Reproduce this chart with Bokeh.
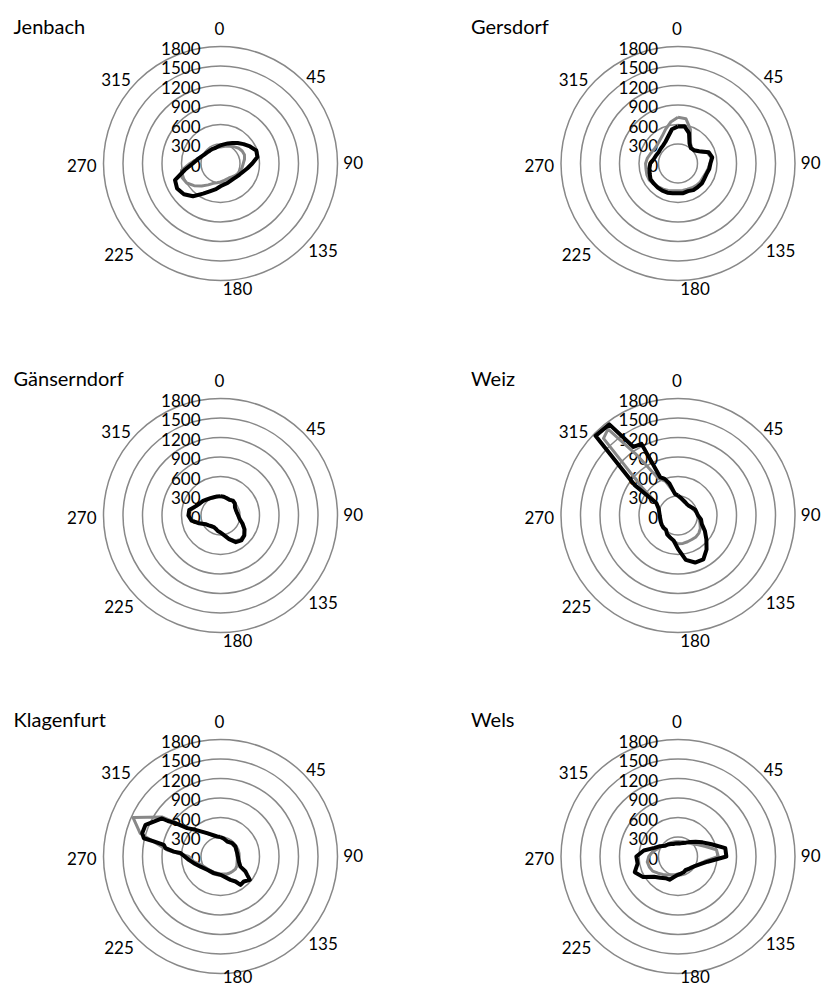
import numpy as np
from bokeh.plotting import figure
from bokeh.layouts import column, row
from bokeh.models import ColumnDataSource, Label, Range1d
from bokeh.core.properties import value
from bokeh.embed import file_html
from bokeh.resources import INLINE

# ---------------- data ----------------
STATIONS = ["Jenbach", "Gersdorf", "Gänserndorf", "Weiz", "Klagenfurt", "Wels"]
RINGS = [300, 600, 900, 1200, 1500, 1800]
RADIAL_TICKS = [0, 300, 600, 900, 1200, 1500, 1800]
ANGLE_TICKS = [0, 45, 90, 135, 180, 225, 270, 315]

DEG10 = list(range(0, 360, 10))

JEN_BLACK = [278, 298, 329, 365, 411, 463, 524, 586, 576, 488, 421, 370, 339, 319, 308, 308, 319, 329,
             350, 401, 452, 535, 658, 735, 771, 745, 555, 427, 360, 313, 283, 267, 257, 257, 252, 262]
JEN_GRAY = [255, 265, 285, 305, 335, 365, 385, 392, 375, 350, 338, 328, 310, 290, 270, 258, 260, 270,
            283, 300, 325, 380, 450, 530, 600, 630, 610, 470, 370, 318, 290, 273, 265, 262, 258, 255]

GER_BLACK = [571, 581, 496, 355, 308, 319, 375, 504, 535, 499, 488, 468, 468, 478, 473, 473, 452, 463,
             458, 463, 478, 483, 483, 483, 488, 463, 447, 427, 380, 360, 344, 350, 360, 386, 442, 535]
GER_GRAY = [710, 700, 560, 380, 320, 320, 370, 480, 520, 490, 470, 450, 440, 445, 440, 430, 420, 420,
            420, 425, 440, 455, 470, 490, 510, 510, 500, 499, 478, 449, 428, 427, 448, 487, 560, 647]

GAE_BLACK = [298, 293, 283, 278, 298, 288, 257, 252, 257, 273, 298, 360, 427, 478, 499, 473, 386, 308,
             262, 242, 216, 206, 216, 237, 267, 350, 452, 494, 488, 411, 370, 350, 324, 308, 298, 298]
GAE_GRAY = [292, 288, 280, 275, 290, 282, 255, 250, 255, 270, 292, 350, 420, 470, 480, 450, 375, 300,
            258, 238, 214, 204, 214, 234, 262, 345, 440, 480, 470, 400, 362, 345, 320, 305, 295, 292]

WEI_BLACK_DEG = [0, 10, 20, 30, 40, 50, 60, 70, 80, 90, 100, 110, 120, 130, 140, 150, 160, 170, 180,
                 190, 200, 210, 220, 230, 240, 250, 260, 270, 280, 290, 300, 305, 314, 323, 327, 333,
                 335, 340, 345, 352]
WEI_BLACK = [308, 272, 246, 231, 221, 226, 246, 277, 290, 308, 360, 390, 478, 570, 683, 780, 770, 693,
             513, 390, 360, 334, 288, 293, 288, 282, 277, 282, 293, 318, 386, 807, 1764, 1756, 1257,
             1237, 652, 600, 510, 336]
WEI_GRAY_DEG = [0, 20, 40, 60, 80, 90, 100, 110, 120, 130, 140, 150, 160, 170, 180, 190, 200, 210, 220,
                240, 260, 280, 290, 300, 308, 316, 321, 326, 332, 340, 350]
WEI_GRAY = [290, 240, 220, 240, 280, 300, 330, 360, 396, 420, 430, 426, 430, 436, 436, 400, 350, 320,
            290, 285, 275, 290, 310, 380, 700, 1650, 1710, 1100, 650, 560, 360]

KLA_BLACK_DEG = [0, 10, 24, 41, 56, 79, 90, 105, 117, 121, 124.5, 128.5, 137, 144.8, 149, 157, 180,
                 201.8, 225, 243, 256, 264, 275, 276, 278.6, 281.6, 282.7, 283.4, 286.6, 292.9, 303,
                 304, 306.5, 310.4, 316.8, 330, 350.5]
KLA_BLACK = [300, 280, 253, 273, 277, 262, 267, 292, 344, 449, 498, 577, 526, 534, 449, 391, 282,
             276, 290, 344, 423, 490, 618, 722, 856, 890, 1052, 1213, 1257, 1252, 1074,
             976, 862, 673, 563, 414, 312]
KLA_GRAY_DEG = [0, 20, 40, 60, 80, 100, 120, 130, 140, 150, 160, 180, 200, 220, 240, 250, 259, 270,
                277, 286, 294, 304, 308, 312, 318, 330, 345]
KLA_GRAY = [290, 265, 265, 265, 258, 262, 290, 300, 295, 290, 285, 270, 262, 270, 300, 340, 418, 487,
            827, 1283, 1472, 1088, 800, 640, 540, 410, 320]

WEL_BLACK = [203, 205, 221, 246, 293, 354, 436, 549, 739, 744, 462, 354, 298, 267, 252, 237, 257, 267,
             282, 318, 380, 386, 427, 483, 627, 708, 631, 641, 534, 386, 318, 257, 241, 221, 205, 205]
WEL_GRAY = [230, 232, 240, 255, 270, 300, 360, 450, 600, 620, 420, 340, 290, 270, 260, 258, 260, 265,
            270, 285, 300, 330, 360, 400, 450, 470, 480, 450, 400, 340, 300, 270, 250, 240, 232, 230]

SERIES = [
    (DEG10, JEN_BLACK, DEG10, JEN_GRAY),
    (DEG10, GER_BLACK, DEG10, GER_GRAY),
    (DEG10, GAE_BLACK, DEG10, GAE_GRAY),
    (WEI_BLACK_DEG, WEI_BLACK, WEI_GRAY_DEG, WEI_GRAY),
    (KLA_BLACK_DEG, KLA_BLACK, KLA_GRAY_DEG, KLA_GRAY),
    (DEG10, WEL_BLACK, DEG10, WEL_GRAY),
]

# ---------------- style ----------------
FONT = "Lato"
RING_COLOR = "#888888"
GRAY_COLOR = "#888888"
R_PX = 117.0                 # pixel radius of the 1800 ring
U = 1800.0 / R_PX            # data units per pixel
LAB_R = 1980                 # base radius of angle labels
NUDGE_X = [-1, 4.5, 4, 11.5, 17, -10.5, -10, -13.5]
NUDGE_Y = [-6, 4.5, -1, -4.5, -4, -0.5, 2, 7.5]

COL_W = [458, 364]
COL_CX = [220, 219.5]
ROW_H = [352, 341, 294]
ROW_CY = 163
ROW_BOTTOM_LIFT = [0, 0, 5]   # keep the lowest "180" label inside the page


def polar_xy(deg, r):
    t = np.deg2rad(np.asarray(deg, dtype=float))
    r = np.asarray(r, dtype=float)
    x = r * np.sin(t)
    y = r * np.cos(t)
    return np.append(x, x[0]), np.append(y, y[0])


def panel(name, series, w, h, cx, cy, lift):
    bdeg, br, gdeg, gr = series
    p = figure(width=w, height=h,
               x_range=Range1d(-cx * U, (w - cx) * U),
               y_range=Range1d(-(h - cy) * U, cy * U),
               x_axis_type=None, y_axis_type=None,
               output_backend="svg", toolbar_location=None,
               min_border=0, outline_line_color=None)
    p.background_fill_color = "white"
    p.border_fill_color = "white"

    p.circle(x=[0] * len(RINGS), y=[0] * len(RINGS), radius=RINGS,
             fill_color=None, line_color=RING_COLOR, line_width=1.5)

    rsrc = ColumnDataSource(dict(x=[0] * len(RADIAL_TICKS), y=RADIAL_TICKS,
                                 t=[str(v) for v in RADIAL_TICKS]))
    p.text(x="x", y="y", text="t", source=rsrc, x_offset=-20, y_offset=1.5,
           text_align="right", text_baseline="middle",
           text_font=value(FONT), text_font_size="17px", text_color="black")

    gx, gy = polar_xy(gdeg, gr)
    p.line(gx, gy, line_color=GRAY_COLOR, line_width=3, line_join="round")
    bx, by = polar_xy(bdeg, br)
    p.line(bx, by, line_color="black", line_width=4, line_join="round")

    t = np.deg2rad(np.asarray(ANGLE_TICKS, dtype=float))
    yo = list(NUDGE_Y)
    yo[ANGLE_TICKS.index(180)] -= lift
    asrc = ColumnDataSource(dict(x=LAB_R * np.sin(t), y=LAB_R * np.cos(t),
                                 t=[str(a) for a in ANGLE_TICKS],
                                 xo=NUDGE_X, yo=yo))
    p.text(x="x", y="y", text="t", source=asrc, x_offset="xo", y_offset="yo",
           text_align="center", text_baseline="middle",
           text_font=value(FONT), text_font_size="17px", text_color="black")

    p.add_layout(Label(x=-207 * U, y=138 * U, text=name, text_align="left",
                       text_baseline="alphabetic", text_font=FONT,
                       text_font_size="20px", text_color="black"))
    return p


rows = []
for i in range(3):
    figs = []
    for j in range(2):
        k = 2 * i + j
        figs.append(panel(STATIONS[k], SERIES[k], COL_W[j], ROW_H[i], COL_CX[j], ROW_CY,
                          ROW_BOTTOM_LIFT[i]))
    rows.append(row(*figs))
layout = column(*rows)

open("out.html", "w").write(file_html(layout, INLINE))
